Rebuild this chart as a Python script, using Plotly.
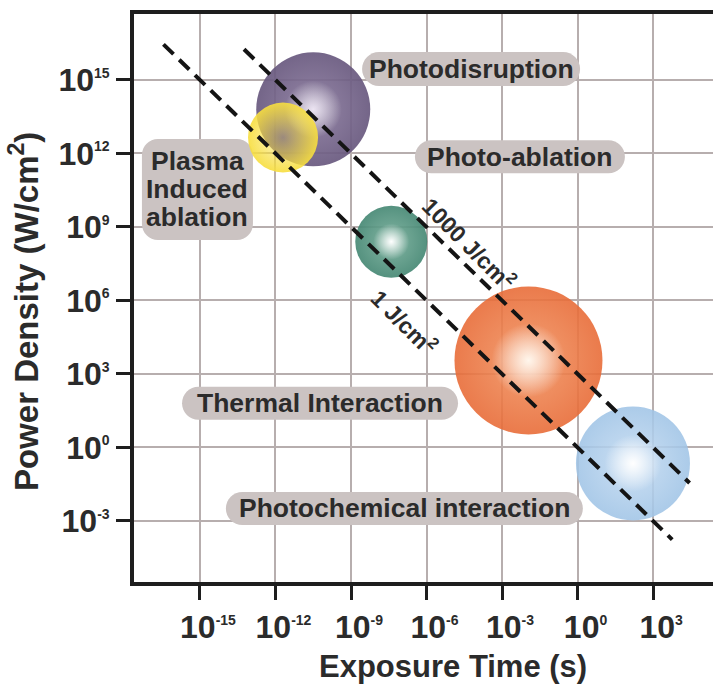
import numpy as np
import plotly.graph_objects as go

# ---- data -------------------------------------------------------------
# interaction regimes: centre exposure time (s) and power density (W/cm^2)
regimes = ["Photodisruption", "Plasma induced ablation", "Photo-ablation",
           "Thermal interaction", "Photochemical interaction"]
regime_time = [10**-10.5, 10**-11.7, 10**-7.4, 10**-1.95, 10**2.2]
regime_power = [10**13.8, 10**12.65, 10**8.4, 10**3.55, 10**-0.65]

# constant-fluence reference lines (J/cm^2) and their time span (s)
fluence = [1, 1000]
fluence_label = ["1 J/cm<sup>2</sup>", "1000 J/cm<sup>2</sup>"]
fluence_t_start = [10**-16.45, 10**-13.25]
fluence_t_end = [10**3.76, 10**4.45]

x_tick_exp = [-15, -12, -9, -6, -3, 0, 3]
y_tick_exp = [-3, 0, 3, 6, 9, 12, 15]

# ---- styling ----------------------------------------------------------
FONT = "Liberation Sans, Arial, Helvetica, sans-serif"
TXT = "#2b2b2b"
BOX = "#cbc3c2"


def pow10(e):
    return f"10<sup><span style='font-size:14px'>{e}</span></sup>"


# sphere styling per regime: diameter(px), edge colour, inner colour, highlight
sphere_style = [
    (114, "rgba(104,88,126,0.92)", "rgba(140,124,160,0.92)", "rgba(245,238,250,0.9)"),
    (70, "rgba(247,222,64,0.92)", "rgba(247,222,64,0.25)", None),
    (72, "rgba(70,136,116,0.92)", "rgba(120,175,155,0.92)", "rgba(255,255,255,1)"),
    (148, "rgba(232,108,56,0.90)", "rgba(242,150,100,0.90)", "rgba(255,246,236,1)"),
    (114, "rgba(160,196,230,0.88)", "rgba(198,220,242,0.88)", "rgba(255,255,255,1)"),
]

fig = go.Figure()

for t, p, (d, edge, inner, hi) in zip(regime_time, regime_power, sphere_style):
    fig.add_trace(go.Scatter(
        x=[t], y=[p], mode="markers", hoverinfo="skip", showlegend=False,
        marker=dict(size=d, color=edge, line=dict(width=0),
                    gradient=dict(type="radial", color=inner))))
    if hi is not None:
        fig.add_trace(go.Scatter(
            x=[t], y=[p], mode="markers", hoverinfo="skip", showlegend=False,
            marker=dict(size=d * 0.5, color="rgba(255,255,255,0)", line=dict(width=0),
                        gradient=dict(type="radial", color=hi))))

# constant-fluence dashed lines: P = F / t
for F, t0, t1 in zip(fluence, fluence_t_start, fluence_t_end):
    t = np.array([t0, t1])
    fig.add_trace(go.Scatter(
        x=t, y=F / t, mode="lines", hoverinfo="skip", showlegend=False,
        line=dict(color="#141414", width=4, dash="14px,8px")))


def pill(w, h, r):
    """Rounded rectangle path (pixel units) centred on its anchor."""
    k = 0.5523 * r
    a, b = w / 2, h / 2
    return (f"M {-a + r},{-b} L {a - r},{-b} "
            f"C {a - r + k},{-b} {a},{-b + r - k} {a},{-b + r} "
            f"L {a},{b - r} "
            f"C {a},{b - r + k} {a - r + k},{b} {a - r},{b} "
            f"L {-a + r},{b} "
            f"C {-a + r - k},{b} {-a},{b - r + k} {-a},{b - r} "
            f"L {-a},{-b + r} "
            f"C {-a},{-b + r - k} {-a + r - k},{-b} {-a + r},{-b} Z")


# region labels: text lines, log10 position, box size (px), corner radius
labels = [
    (["Photodisruption"], -4.23, 15.45, 218, 34, 17),
    (["Photo-ablation"], -2.29, 11.86, 210, 33, 16.5),
    (["Plasma", "Induced", "ablation"], -15.1, 10.53, 111, 101, 16),
    (["Thermal Interaction"], -10.23, 1.80, 276, 33, 16.5),
    (["Photochemical interaction"], -6.88, -2.49, 357, 33, 16.5),
]
LINE_GAP = 28  # px between stacked label lines
for lines, lx, ly, w, h, r in labels:
    fig.add_shape(type="path", xref="x", yref="y",
                  xsizemode="pixel", ysizemode="pixel",
                  xanchor=10**lx, yanchor=10**ly, path=pill(w, h, r),
                  fillcolor=BOX, line=dict(width=0), layer="between")
    n = len(lines)
    for i, line in enumerate(lines):
        fig.add_annotation(x=lx, y=ly, xref="x", yref="y", text=line, showarrow=False,
                           yshift=((n - 1) / 2 - i) * LINE_GAP,
                           font=dict(family=FONT, size=26.5, color=TXT, weight="bold"),
                           align="center", xanchor="center", yanchor="middle")

# fluence line labels, rotated along the lines
fig.add_annotation(x=-6.86, y=5.12, xref="x", yref="y", text=fluence_label[0],
                   showarrow=False, textangle=45,
                   font=dict(family=FONT, size=23, color=TXT, weight="bold"))
fig.add_annotation(x=-4.3, y=8.35, xref="x", yref="y", text=fluence_label[1],
                   showarrow=False, textangle=45,
                   font=dict(family=FONT, size=23, color=TXT, weight="bold"))

# axis titles
fig.add_annotation(x=0.551, y=-0.149, xref="paper", yref="paper",
                   xanchor="center", yanchor="middle",
                   text="Exposure Time (s)", showarrow=False,
                   font=dict(family=FONT, size=31, color=TXT, weight="bold"))
fig.add_annotation(x=-0.19, y=0.477, xref="paper", yref="paper",
                   xanchor="center", yanchor="middle",
                   text="Power Density (W/cm<sup>2</sup>)", showarrow=False,
                   textangle=-90,
                   font=dict(family=FONT, size=33, color=TXT, weight="bold"))

axis_common = dict(
    type="log", showgrid=True, gridcolor="#b7aeae", gridwidth=2,
    showline=True, linecolor="#1e1e1e", linewidth=4,
    ticks="outside", ticklen=14, tickwidth=3, tickcolor="#1e1e1e",
    tickfont=dict(family=FONT, size=32, color=TXT, weight="bold"),
    zeroline=False,
)

fig.update_layout(
    width=713, height=686,
    margin=dict(l=134, r=0, t=14, b=104),
    paper_bgcolor="white", plot_bgcolor="white",
    xaxis=dict(axis_common, range=[-17.62, 5.38], mirror=True,
               ticklabelshift=8,
               tickvals=[10.0**e for e in x_tick_exp],
               ticktext=[pow10(e) for e in x_tick_exp]),
    yaxis=dict(axis_common, range=[-5.49, 17.69],
               tickvals=[10.0**e for e in y_tick_exp],
               ticktext=[pow10(e) for e in y_tick_exp]),
)

fig.write_html("out.html")
